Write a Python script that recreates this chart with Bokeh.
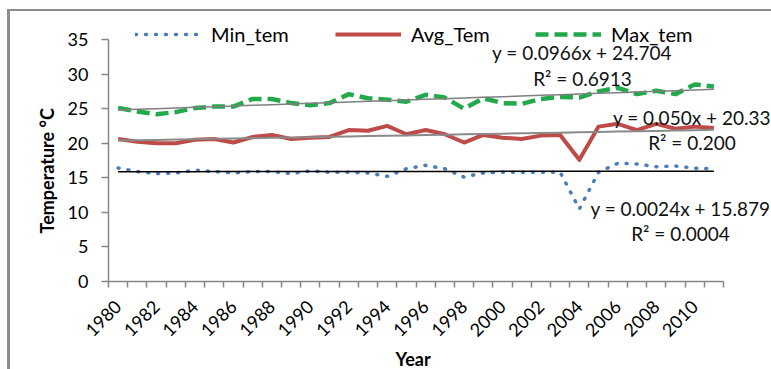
import math
from bokeh.plotting import figure
from bokeh.models import Range1d, FixedTicker, Legend, LegendItem, Label, Title
from bokeh.embed import file_html
from bokeh.resources import INLINE

# ---- data ----
years = list(range(1980, 2012))
min_tem = [16.4, 15.9, 15.6, 15.7, 16.1, 15.9, 15.7, 15.9, 15.9, 15.6,
           16.0, 15.8, 15.8, 15.7, 15.2, 16.3, 16.8, 16.3, 15.1, 15.7,
           15.8, 15.8, 15.8, 15.8, 10.5, 15.8, 17.1, 17.0, 16.6, 16.7,
           16.4, 16.3]
avg_tem = [20.6, 20.2, 20.0, 20.0, 20.5, 20.6, 20.1, 20.9, 21.2, 20.6,
           20.8, 20.9, 21.9, 21.8, 22.5, 21.3, 21.9, 21.3, 20.1, 21.2,
           20.8, 20.6, 21.1, 21.2, 17.6, 22.4, 22.8, 21.9, 22.8, 22.1,
           22.4, 22.2]
max_tem = [25.1, 24.6, 24.2, 24.5, 25.1, 25.3, 25.3, 26.4, 26.4, 25.8,
           25.5, 25.8, 27.1, 26.5, 26.3, 26.0, 27.0, 26.6, 25.0, 26.5,
           25.8, 25.7, 26.4, 26.7, 26.6, 27.5, 28.0, 27.1, 27.6, 27.1,
           28.5, 28.2]
series_names = ["Min_tem", "Avg_Tem", "Max_tem"]
trend_slopes = [0.0024, 0.050, 0.0966]
trend_intercepts = [15.879, 20.33, 24.704]
trend_eq_text = ["y = 0.0024x + 15.879", "y = 0.050x + 20.33", "y = 0.0966x + 24.704"]
trend_r2_text = ["R\u00b2 = 0.0004", "R\u00b2 = 0.200", "R\u00b2 = 0.6913"]
tick_years = years[::2]
y_ticks = [0, 5, 10, 15, 20, 25, 30, 35]
y_max = 35

FONT = "Lato"
AXIS_GRAY = "#868686"
FRAME_GRAY = "#8c8c8c"

# geometry: axis area 615 x 242 px; the drawing frame is extended up and to
# the right so that the legend and equation labels are not clipped
AX_W, AX_H = 615, 242
FRAME_W, FRAME_H = 663, 281
x0, x1 = years[0] - 0.5, years[-1] + 0.5
x_end = x0 + (x1 - x0) * FRAME_W / AX_W
y_end = y_max * FRAME_H / AX_H

p = figure(frame_width=FRAME_W, frame_height=FRAME_H,
           x_range=Range1d(x0, x_end), y_range=Range1d(0, y_end),
           output_backend="svg", toolbar_location=None,
           min_border_left=108, min_border_right=0,
           min_border_top=0, min_border_bottom=85)
p.outline_line_color = None
p.xgrid.visible = False
p.ygrid.visible = False
p.border_fill_color = None
p.background_fill_color = None
# the chart-area frame (left and top edges) drawn as a CSS background
p.styles = {
    "background": (f"linear-gradient({FRAME_GRAY},{FRAME_GRAY}) 7px 9px / 3px 400px no-repeat, "
                   f"linear-gradient({FRAME_GRAY},{FRAME_GRAY}) 7px 9px / 800px 2px no-repeat, "
                   "#ffffff")
}

colors = ["#4a7ebb", "#be4b48", "#22a94b"]
r_min = p.line(years, min_tem, line_color=colors[0], line_width=3.5,
               line_dash="1 9", line_cap="round")
r_avg = p.line(years, avg_tem, line_color=colors[1], line_width=4, line_join="round")
r_max = p.line(years, max_tem, line_color=colors[2], line_width=4.5, line_dash="13 6")

# linear trend lines from the printed equations (x = 1..32)
trend_colors = ["#000000", "#8a8a8a", "#7f7f7f"]
trend_widths = [1.5, 2, 1.5]
idx = [y - years[0] + 1 for y in years]
for s, b, c, w in zip(trend_slopes, trend_intercepts, trend_colors, trend_widths):
    p.line(years, [s * i + b for i in idx], line_color=c, line_width=w)

# axes
xa = p.xaxis[0]
xa.bounds = (x0, x1)
xa.ticker = FixedTicker(ticks=tick_years,
                        minor_ticks=[y - 0.5 for y in years] + [years[-1] + 0.5])
xa.major_tick_out = 0
xa.major_tick_in = 0
xa.minor_tick_out = 6
xa.minor_tick_in = 0
xa.minor_tick_line_color = AXIS_GRAY
xa.minor_tick_line_width = 1.5
xa.axis_line_color = AXIS_GRAY
xa.axis_line_width = 1.5
xa.major_label_orientation = math.pi / 4
xa.major_label_standoff = 16
xa.major_label_text_font = FONT
xa.major_label_text_font_size = "18px"
xa.major_label_text_color = "#000000"

ya = p.yaxis[0]
ya.bounds = (0, y_max)
ya.ticker = FixedTicker(ticks=y_ticks)
ya.major_tick_out = 7
ya.major_tick_in = 0
ya.minor_tick_out = 0
ya.minor_tick_in = 0
ya.major_tick_line_color = AXIS_GRAY
ya.major_tick_line_width = 1.5
ya.axis_line_color = AXIS_GRAY
ya.axis_line_width = 1.5
ya.major_label_standoff = 13
ya.major_label_text_font = FONT
ya.major_label_text_font_size = "18px"
ya.major_label_text_color = "#000000"

# axis titles as side titles so they centre on the axis area, not the frame
p.add_layout(Title(text="Year", align="left", offset=287, standoff=0,
                   text_font=FONT, text_font_size="18px",
                   text_font_style="bold", text_color="#000000"), "below")
p.add_layout(Title(text="Temperature \u00b0C", align="left", offset=48, standoff=14,
                   text_font=FONT, text_font_size="18px",
                   text_font_style="bold", text_color="#000000"), "left")

# legend
legend = Legend(items=[LegendItem(label=n, renderers=[r])
                       for n, r in zip(series_names, [r_min, r_avg, r_max])],
                orientation="horizontal", location=(27, 235),
                glyph_width=66, glyph_height=20, label_height=20, label_width=90,
                label_standoff=10, spacing=34, padding=0, margin=0,
                background_fill_alpha=0, border_line_alpha=0,
                label_text_font=FONT, label_text_font_size="20px",
                label_text_color="#000000")
p.add_layout(legend)

# trend equation labels (data coordinates)
label_pos = [((2009.26, 10.56), (2009.26, 6.94)),
             ((2009.86, 23.72), (2009.86, 20.10)),
             ((2004.14, 33.12), (2004.16, 29.36))]
for (eq_xy, r2_xy), eq, r2 in zip(label_pos, trend_eq_text, trend_r2_text):
    for (lx, ly), t in ((eq_xy, eq), (r2_xy, r2)):
        p.add_layout(Label(x=lx, y=ly, text=t, text_align="center",
                           text_baseline="middle", text_font=FONT,
                           text_font_size="19px", text_color="#111111"))

open("out.html", "w").write(file_html(p, INLINE))
